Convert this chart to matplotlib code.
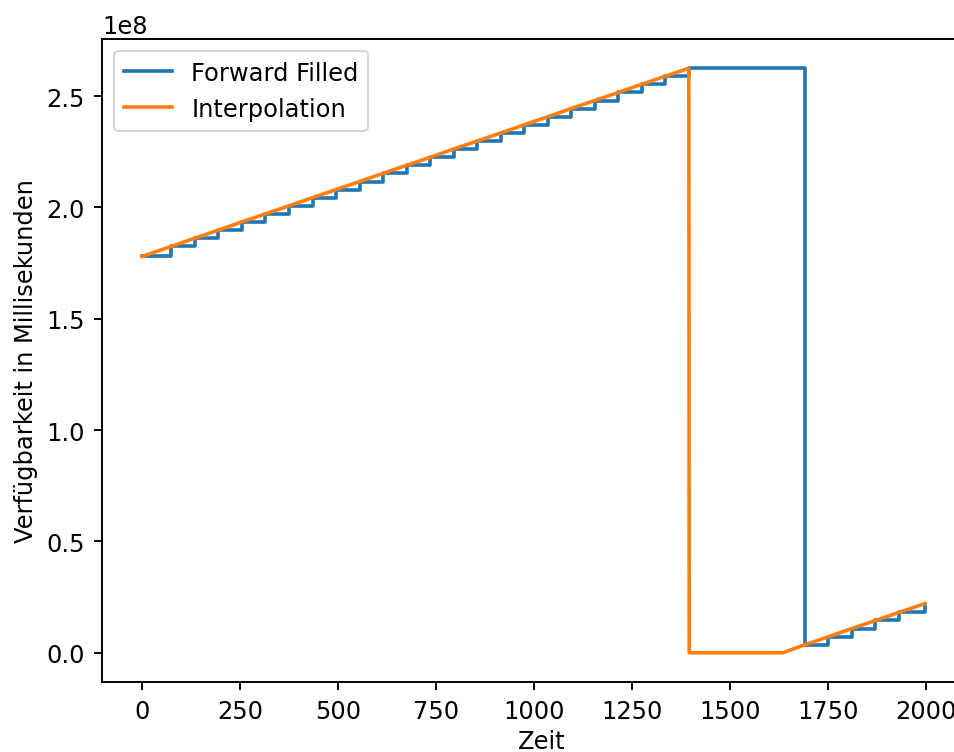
import matplotlib
matplotlib.use("Agg")
import matplotlib.pyplot as plt

# Known sample times (x) and values (in units of 1e8 ms)
ff_x = [0, 75, 135, 195, 255, 315, 375, 435, 495, 555, 615, 675, 735, 795,
        855, 915, 975, 1035, 1095, 1155, 1215, 1275, 1335, 1395,
        1691, 1751, 1811, 1871, 1931, 1997]
ff_y = [1.780, 1.825, 1.862, 1.898, 1.935, 1.971, 2.007, 2.044, 2.080, 2.116,
        2.153, 2.189, 2.225, 2.262, 2.298, 2.334, 2.371, 2.407, 2.444, 2.480,
        2.516, 2.553, 2.589, 2.625,
        0.036, 0.072, 0.109, 0.145, 0.181, 0.221]

ip_x = [0, 75, 135, 195, 255, 315, 375, 435, 495, 555, 615, 675, 735, 795,
        855, 915, 975, 1035, 1095, 1155, 1215, 1275, 1335, 1395,
        1396, 1635,
        1691, 1751, 1811, 1871, 1931, 1997]
ip_y = [1.780, 1.825, 1.862, 1.898, 1.935, 1.971, 2.007, 2.044, 2.080, 2.116,
        2.153, 2.189, 2.225, 2.262, 2.298, 2.334, 2.371, 2.407, 2.444, 2.480,
        2.516, 2.553, 2.589, 2.625,
        0.0, 0.0,
        0.036, 0.072, 0.109, 0.145, 0.181, 0.221]

scale = 1e8

k = 1.16
plt.rcParams.update({
    "font.size": 10 * k,
    "lines.linewidth": 1.5 * k,
    "axes.linewidth": 0.8 * k,
    "xtick.major.size": 3.5 * k,
    "ytick.major.size": 3.5 * k,
    "xtick.major.width": 0.8 * k,
    "ytick.major.width": 0.8 * k,
    "xtick.major.pad": 3.5 * k,
    "ytick.major.pad": 3.5 * k,
})

fig = plt.figure(figsize=(955 / 150, 753 / 150), dpi=150)
# axes extend past the right edge (the reference image is cropped there)
ax = fig.add_axes([102 / 955, 1 - 683 / 753, 880 / 955, 643 / 753])

ax.plot(ff_x, [v * scale for v in ff_y], drawstyle="steps-post", label="Forward Filled")
ax.plot(ip_x, [v * scale for v in ip_y], label="Interpolation")

ax.set_xlim(-102, -102 + 880 / 0.392)
ax.set_xlabel("Zeit", labelpad=3.0)
ax.set_ylabel("Verfügbarkeit in Millisekunden")
ax.legend(loc="upper left")

fig.savefig("out.png", dpi=150)
